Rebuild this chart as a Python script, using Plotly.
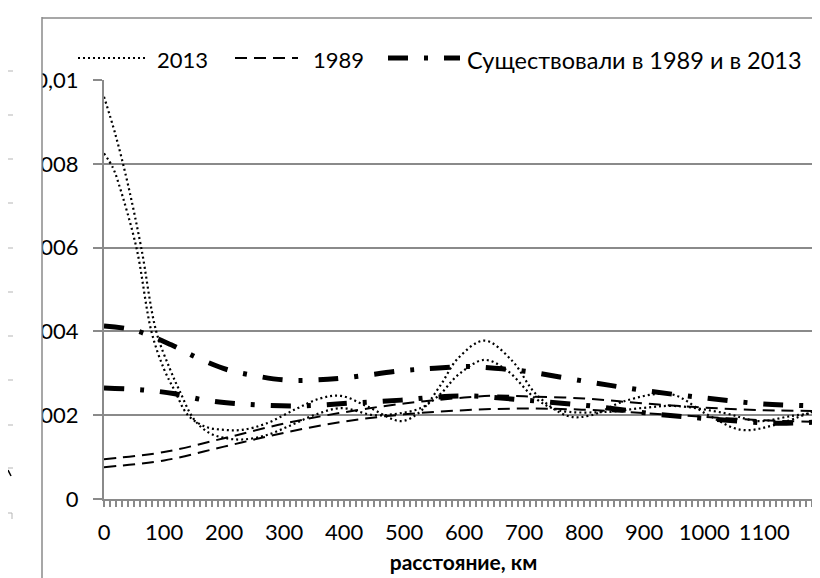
"""Density of distances: 2013 vs 1989 (smoothed line chart, Excel look)."""

import plotly.graph_objects as go

# ---- data ----------------------------------------------------------------
km_2013_a = [0, 19, 40, 62, 87, 110, 126, 150, 175, 200, 230, 270, 310, 350, 395,
             450, 490, 528, 560, 590, 634, 673, 718, 757, 840, 895, 951, 1034, 1090,
             1145, 1195]
val_2013_a = [0.0096, 0.0087, 0.0075, 0.006, 0.004, 0.0031, 0.00258, 0.0019,
              0.00158, 0.00146, 0.00142, 0.00152, 0.00175, 0.002, 0.00217, 0.002,
              0.00204, 0.00217, 0.0025, 0.00296, 0.00332, 0.00305, 0.00241, 0.00212,
              0.00208, 0.00217, 0.00222, 0.00205, 0.00186, 0.00198, 0.00208]

km_2013_b = [0, 15, 25, 54, 79, 100, 118, 140, 170, 200, 230, 270, 320, 360, 395,
             440, 495, 528, 560, 590, 634, 680, 720, 773, 812, 868, 945, 1007, 1062,
             1118, 1195]
val_2013_b = [0.00825, 0.0079, 0.0075, 0.006, 0.004, 0.0031, 0.00258, 0.002,
              0.00172, 0.00165, 0.00165, 0.0018, 0.00215, 0.0024, 0.00246, 0.0022,
              0.00186, 0.0021, 0.0027, 0.00336, 0.00378, 0.0033, 0.0025, 0.00198,
              0.002, 0.00234, 0.0025, 0.002, 0.00165, 0.00177, 0.00217]

km_1989_a = [0, 100, 200, 300, 400, 500, 600, 650, 700, 800, 900, 1000, 1100, 1190]
val_1989_a = [0.00095, 0.00112, 0.00145, 0.0018, 0.00207, 0.00228, 0.00242, 0.00247,
              0.00245, 0.0024, 0.00228, 0.00218, 0.00212, 0.0021]

km_1989_b = [0, 100, 200, 300, 400, 500, 600, 700, 800, 900, 1000, 1100, 1190]
val_1989_b = [0.00076, 0.00092, 0.00125, 0.00158, 0.00185, 0.00202, 0.00212, 0.00216,
              0.00213, 0.00205, 0.00196, 0.00188, 0.00184]

km_both_a = [0, 50, 112, 157, 207, 252, 302, 352, 407, 495, 551, 607, 651, 701, 801,
             895, 1001, 1098, 1190]
val_both_a = [0.00413, 0.00403, 0.00368, 0.00336, 0.00308, 0.00294, 0.00284, 0.00284,
              0.0029, 0.00306, 0.00312, 0.00316, 0.00312, 0.00305, 0.00281, 0.0026,
              0.00241, 0.00227, 0.00222]

km_both_b = [0, 68, 118, 168, 218, 318, 412, 495, 551, 607, 701, 812, 918, 1012, 1118,
             1190]
val_both_b = [0.00265, 0.0026, 0.00251, 0.00236, 0.00228, 0.00222, 0.00229, 0.00236,
              0.00243, 0.00246, 0.00236, 0.00222, 0.00203, 0.00191, 0.00181, 0.00184]

legend_names = ["2013", "1989", "Существовали в 1989 и в 2013"]
y_tick_vals = [0, 0.002, 0.004, 0.006, 0.008, 0.01]
y_tick_text = ["0", "0,002", "0,004", "0,006", "0,008", "0,01"]
x_title = "расстояние, км"

# ---- styling --------------------------------------------------------------
W, H = 820, 578
L, R, T, B = 96, 5, 72, 87
GRAY = "#8a8a8a"
FONT = "Lato, 'Noto Sans', sans-serif"

DOT = dict(color="black", width=2.2, dash="2px,3px")
DASH = dict(color="black", width=2, dash="12px,7px")
DASHDOT = dict(color="black", width=5, dash="20px,16px,4px,16px")


def px_x(px):
    """pixel column -> paper x"""
    return (px - L) / (W - L - R)


def px_y(py):
    """pixel row -> paper y"""
    return (H - B - py) / (H - T - B)


fig = go.Figure()

series = [
    (km_1989_a, val_1989_a, DASH),
    (km_1989_b, val_1989_b, DASH),
    (km_2013_a, val_2013_a, DOT),
    (km_2013_b, val_2013_b, DOT),
    (km_both_a, val_both_a, DASHDOT),
    (km_both_b, val_both_b, DASHDOT),
]
for xs, ys, ln in series:
    fig.add_trace(go.Scatter(x=xs, y=ys, mode="lines", line=dict(shape="spline", **ln),
                             showlegend=False, hoverinfo="skip"))

shapes = []
# legend samples drawn by hand (Excel-like long samples)
for (x0, x1), ln in [((70, 137), DOT), ((227, 290), DASH), ((380, 452), DASHDOT)]:
    shapes.append(dict(type="line", xref="paper", yref="paper",
                       x0=px_x(x0), x1=px_x(x1), y0=px_y(50), y1=px_y(50), line=ln))

# neighbouring panel on the left that covers part of the tick labels
shapes.append(dict(type="rect", xref="paper", yref="paper", layer="above",
                   x0=px_x(-2), x1=px_x(34), y0=px_y(-2), y1=px_y(H + 2),
                   fillcolor="white", line=dict(width=0)))
for ty in [63, 107, 151, 195, 240, 284, 328, 372, 417, 460]:
    shapes.append(dict(type="line", xref="paper", yref="paper", layer="above",
                       x0=px_x(0), x1=px_x(5), y0=px_y(ty), y1=px_y(ty),
                       line=dict(color="#b5b5b5", width=1)))
shapes.append(dict(type="line", xref="paper", yref="paper", layer="above",
                   x0=px_x(0), x1=px_x(4), y0=px_y(505), y1=px_y(505),
                   line=dict(color="#b5b5b5", width=1)))
shapes.append(dict(type="line", xref="paper", yref="paper", layer="above",
                   x0=px_x(4), x1=px_x(4), y0=px_y(505), y1=px_y(511),
                   line=dict(color="#b5b5b5", width=1)))
shapes.append(dict(type="line", xref="paper", yref="paper", layer="above",
                   x0=px_x(0), x1=px_x(3), y0=px_y(462), y1=px_y(468),
                   line=dict(color="black", width=1.5)))
# chart frames
shapes.append(dict(type="line", xref="paper", yref="paper", layer="above",
                   x0=px_x(34), x1=px_x(34), y0=px_y(9), y1=px_y(577),
                   line=dict(color=GRAY, width=1.5)))
shapes.append(dict(type="line", xref="paper", yref="paper", layer="above",
                   x0=px_x(34), x1=px_x(W + 2), y0=px_y(10), y1=px_y(10),
                   line=dict(color=GRAY, width=1.5)))
shapes.append(dict(type="line", xref="paper", yref="paper", layer="above",
                   x0=px_x(-2), x1=px_x(34), y0=px_y(577), y1=px_y(577),
                   line=dict(color=GRAY, width=1.5)))

annotations = []
for name, x0, fs in zip(legend_names, [147, 303, 457], [22, 22, 23.5]):
    annotations.append(dict(text=name, xref="paper", yref="paper", x=px_x(x0), y=px_y(52),
                            xanchor="left", yanchor="middle", showarrow=False,
                            font=dict(family=FONT, size=fs, color="black")))

fig.update_layout(
    width=W, height=H,
    margin=dict(l=L, r=R, t=T, b=B, autoexpand=False),
    paper_bgcolor="white", plot_bgcolor="white",
    font=dict(family=FONT, size=22, color="black"),
    shapes=shapes, annotations=annotations,
    showlegend=False,
)
fig.update_xaxes(
    automargin=False,
    range=[0, 1198], tick0=0, dtick=100,
    ticks="outside", ticklen=6, tickwidth=1.5, tickcolor=GRAY,
    ticklabelstandoff=7,
    minor=dict(dtick=10, ticks="outside", ticklen=6, tickwidth=1.5, tickcolor=GRAY,
               showgrid=False),
    showline=True, linecolor=GRAY, linewidth=2,
    showgrid=False, zeroline=False,
    tickfont=dict(size=22),
    title=dict(text=f"<b>{x_title}</b>", font=dict(size=21), standoff=11),
)
fig.update_yaxes(
    automargin=False,
    range=[0, 0.01], tickvals=y_tick_vals, ticktext=y_tick_text,
    ticks="outside", ticklen=9, tickwidth=1.5, tickcolor=GRAY,
    ticklabelstandoff=10,
    showline=True, linecolor=GRAY, linewidth=2,
    showgrid=True, gridcolor=GRAY, gridwidth=1.5, zeroline=False,
    tickfont=dict(size=22),
)

fig.write_html("out.html")
